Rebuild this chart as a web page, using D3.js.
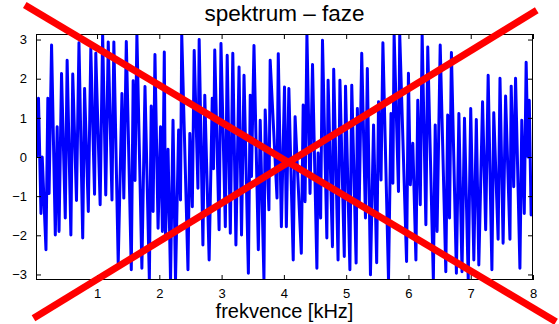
<!DOCTYPE html>
<html><head><meta charset="utf-8">
<script src="https://cdn.jsdelivr.net/npm/d3@7/dist/d3.min.js"></script>
<style>
html,body{margin:0;padding:0;background:#fff;}
svg{display:block;font-family:"Liberation Sans",Arial,Helvetica,sans-serif;}
</style></head>
<body>
<svg id="chart" width="559" height="324"></svg>
<script>
// ---- data ----
const titleText = "spektrum – faze";
const xLabelText = "frekvence [kHz]";
const xTicks = [1, 2, 3, 4, 5, 6, 7, 8];
const yTicks = [-3, -2, -1, 0, 1, 2, 3];
const freqKHz = [
0.03,0.06,0.10,0.12,0.18,0.21,0.23,0.27,0.33,0.36,0.39,0.43,0.49,0.52,0.58,0.61,0.67,0.71,0.77,0.80,
0.86,0.90,0.96,0.98,1.05,1.09,1.14,1.18,1.24,1.27,1.34,1.40,1.43,1.47,1.55,1.58,1.61,1.64,1.72,1.77,
1.84,1.87,1.90,1.93,1.98,2.02,2.05,2.08,2.10,2.14,2.18,2.22,2.26,2.31,2.34,2.36,2.46,2.49,2.53,2.56,
2.62,2.64,2.70,2.73,2.80,2.85,2.87,2.89,2.96,2.99,3.06,3.09,3.14,3.18,3.23,3.28,3.32,3.36,3.43,3.46,
3.48,3.52,3.59,3.62,3.68,3.70,3.76,3.78,3.89,3.91,3.96,4.01,4.04,4.08,4.15,4.18,4.28,4.31,4.34,4.37,
4.42,4.46,4.53,4.55,4.59,4.62,4.69,4.71,4.78,4.80,4.87,4.90,4.97,4.99,5.06,5.09,5.16,5.18,5.21,5.25,
5.31,5.34,5.39,5.44,5.49,5.52,5.56,5.59,5.68,5.72,5.75,5.77,5.84,5.86,5.97,6.00,6.03,6.07,6.12,6.15,
6.19,6.22,6.28,6.31,6.40,6.43,6.46,6.51,6.60,6.63,6.66,6.69,6.77,6.81,6.86,6.90,6.96,7.00,7.05,7.09,
7.13,7.19,7.24,7.28,7.34,7.37,7.44,7.47,7.52,7.56,7.63,7.65,7.69,7.72,7.79,7.82,7.86,7.89,7.92,7.94,
7.97,8.00];
const phase = [
0.0,1.5,-1.44,0.0,-2.37,1.5,-0.93,2.86,-1.99,0.77,-1.9,2.13,-1.56,2.47,-1.99,2.12,-1.11,2.92,-2.07,1.75,
-1.39,2.77,-0.95,2.65,-1.22,3.14,-0.97,2.94,-1.1,2.94,-2.71,1.62,-1.05,2.95,-2.88,1.95,-0.6,3.14,-2.84,1.8,
-3.14,1.3,-1.39,2.62,-1.82,0.77,-1.9,2.68,-2.03,0.2,-3.14,0.94,-3.14,0.69,-1.1,3.14,-2.88,0.6,-1.27,2.72,
-0.8,3.0,-2.25,1.58,-2.63,1.5,-0.3,2.73,-1.86,2.9,-1.78,2.6,-1.95,2.65,-2.25,2.3,-1.99,2.09,-2.97,1.58,
-0.5,2.85,-2.37,0.94,-3.14,1.2,-1.35,2.47,-1.05,2.64,-1.78,1.79,-1.78,1.75,-2.63,1.03,-2.46,1.33,-1.14,3.14,
-0.93,2.36,-2.84,0.1,-1.56,2.98,-2.07,1.96,-2.29,2.24,-2.63,1.96,-2.54,1.81,-2.88,1.83,-2.71,1.24,-1.2,2.65,
-1.56,2.26,-3.01,0.82,-2.7,1.41,-0.59,2.92,-3.14,1.11,-0.67,3.14,-0.88,3.14,-2.67,2.14,-0.71,0.35,-2.63,1.45,
-1.22,3.14,-1.73,2.81,-3.14,0.82,-1.9,2.86,-2.93,1.07,-1.56,2.67,-2.97,1.11,-2.93,0.99,-3.14,1.24,-2.63,0.96,
-2.76,1.41,-1.86,2.09,-2.88,1.13,-2.1,2.01,-2.2,1.56,-2.1,1.81,-0.76,2.01,-2.84,0.94,-1.44,2.42,0.0,1.45,
-1.48,-1.31];
// red cross-out overlay, endpoints in data units (kHz, rad)
const crossStart = [[-0.16, 3.88], [-0.02, -4.12]];
const crossEnd   = [[8.37, -4.21], [8.06, 3.75]];

// ---- layout ----
const W = 559, H = 324;
const m = {left: 36, right: 26, top: 34, bottom: 44};
const svg = d3.select("#chart");

const x = d3.scaleLinear().domain([0.02, 8]).range([m.left, W - m.right]);
const y = d3.scaleLinear().domain([-Math.PI, Math.PI]).range([H - m.bottom, m.top]);

const pw = W - m.right - m.left, ph = H - m.bottom - m.top;

svg.append("rect").attr("width", W).attr("height", H).attr("fill", "#fff");

svg.append("defs").append("clipPath").attr("id", "plotclip")
  .append("rect").attr("x", m.left).attr("y", m.top).attr("width", pw).attr("height", ph);

const pts = freqKHz.map((f, i) => [f, phase[i]]);
svg.append("path")
  .datum(pts)
  .attr("clip-path", "url(#plotclip)")
  .attr("fill", "none")
  .attr("stroke", "#0000ff")
  .attr("stroke-width", 3)
  .attr("stroke-linejoin", "round")
  .attr("d", d3.line().x(d => x(d[0])).y(d => y(d[1])));

// axes (MATLAB style: inner ticks, all four sides)
const fmt = d => (d < 0 ? "\u2212" + Math.abs(d) : String(d));
const tickLen = 5;
const axB = d3.axisBottom(x).tickValues(xTicks).tickSizeInner(-tickLen).tickSizeOuter(0).tickPadding(9).tickFormat(fmt);
const axT = d3.axisTop(x).tickValues(xTicks).tickSizeInner(-tickLen).tickSizeOuter(0).tickFormat("");
const axL = d3.axisLeft(y).tickValues(yTicks).tickSizeInner(-tickLen).tickSizeOuter(0).tickPadding(9).tickFormat(fmt);
const axR = d3.axisRight(y).tickValues(yTicks).tickSizeInner(-tickLen).tickSizeOuter(0).tickFormat("");

function styleAxis(g) {
  g.select(".domain").remove();
  g.selectAll(".tick line").attr("stroke", "#000").attr("stroke-width", 1);
  g.selectAll(".tick text").attr("fill", "#000").attr("font-size", 13)
    .attr("font-family", "Liberation Sans, Arial, sans-serif");
}
svg.append("g").attr("transform", `translate(0,${H - m.bottom})`).call(axB).call(styleAxis);
svg.append("g").attr("transform", `translate(0,${m.top})`).call(axT).call(styleAxis);
svg.append("g").attr("transform", `translate(${m.left},0)`).call(axL).call(styleAxis);
svg.append("g").attr("transform", `translate(${W - m.right},0)`).call(axR).call(styleAxis);

svg.append("rect")
  .attr("x", m.left + 0.5).attr("y", m.top + 0.5)
  .attr("width", pw - 1).attr("height", ph - 1)
  .attr("fill", "none").attr("stroke", "#000").attr("stroke-width", 1);

svg.append("text")
  .attr("x", (x.range()[0] + x.range()[1]) / 2).attr("y", 21)
  .attr("text-anchor", "middle").attr("font-size", 22.5).attr("fill", "#000")
  .text(titleText);

svg.append("text")
  .attr("x", (x.range()[0] + x.range()[1]) / 2).attr("y", 318)
  .attr("text-anchor", "middle").attr("font-size", 20).attr("fill", "#000")
  .text(xLabelText);

// red cross-out overlay
svg.append("g").selectAll("line")
  .data(crossStart.map((s, i) => [s, crossEnd[i]]))
  .join("line")
  .attr("x1", d => x(d[0][0])).attr("y1", d => y(d[0][1]))
  .attr("x2", d => x(d[1][0])).attr("y2", d => y(d[1][1]))
  .attr("stroke", "#ff0000").attr("stroke-width", 7);
</script>
</body></html>
